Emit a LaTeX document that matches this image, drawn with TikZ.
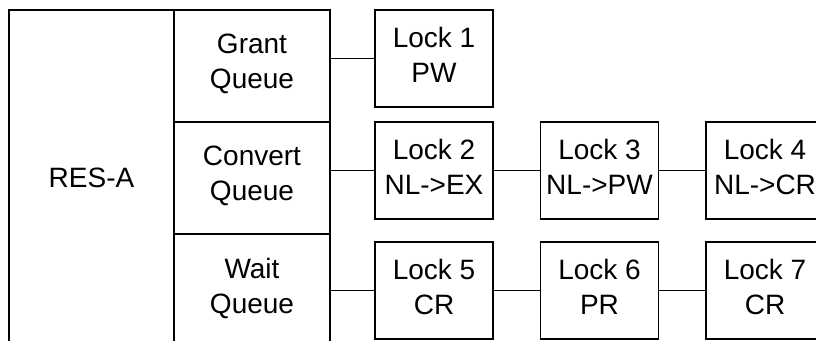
\documentclass[tikz,border=0pt]{standalone}
\usepackage{fontspec}
\setmainfont{Liberation Sans}
\begin{document}
\begin{tikzpicture}[x=1pt,y=-1pt,
  box/.style={draw, line width=1.8pt, align=center, inner sep=0pt,
    font=\fontsize{28}{35}\selectfont},
  qbox/.style={box, minimum width=156pt, minimum height=112pt, text depth=9pt},
  lockbox/.style={box, minimum width=118pt, minimum height=97pt, text depth=8pt},
  conn/.style={line width=1.8pt}]
\useasboundingbox (0,0) rectangle (816,340);
\fill[white] (0,0) rectangle (816,340);
\clip (0,0) rectangle (816,340);
% resource
\node[box, minimum width=165pt, minimum height=336pt] (res) at (91.5,178) {RES-A};
% queues
\node[qbox] (grant) at (252,66) {Grant\\Queue};
\node[qbox] (convert) at (252,178) {Convert\\Queue};
\node[qbox] (wait) at (252,290) {Wait\\Queue};
% locks
\node[lockbox] (l1) at (434,58.5) {Lock 1\\PW};
\node[lockbox] (l2) at (434,170.5) {Lock 2\\NL->EX};
\node[lockbox] (l3) at (599.5,170.5) {Lock 3\\NL->PW};
\node[lockbox] (l4) at (765,170.5) {Lock 4\\NL->CR};
\node[lockbox] (l5) at (434,290.5) {Lock 5\\CR};
\node[lockbox] (l6) at (599.5,290.5) {Lock 6\\PR};
\node[lockbox] (l7) at (765,290.5) {Lock 7\\CR};
% connectors
\draw[conn] (grant.east |- l1.west) -- (l1.west);
\draw[conn] (convert.east |- l2.west) -- (l2.west);
\draw[conn] (l2.east) -- (l3.west);
\draw[conn] (l3.east) -- (l4.west);
\draw[conn] (wait.east |- l5.west) -- (l5.west);
\draw[conn] (l5.east) -- (l6.west);
\draw[conn] (l6.east) -- (l7.west);
\end{tikzpicture}
\end{document}
